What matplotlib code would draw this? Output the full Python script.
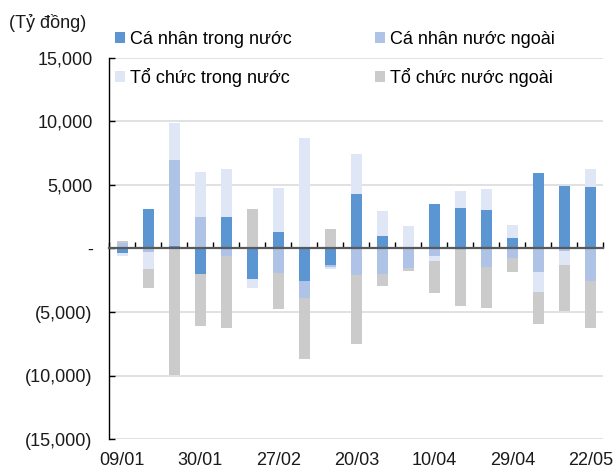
import matplotlib
matplotlib.use("Agg")
import matplotlib.pyplot as plt
import numpy as np
from matplotlib.ticker import FuncFormatter, FixedLocator, MultipleLocator

FS = 13
plt.rcParams["font.family"] = ["Liberation Sans", "DejaVu Sans"]
plt.rcParams["font.size"] = FS

# net buying/selling by investor group, weekly (ty dong)
ca_nhan_trong_nuoc = [-350, 3090, 210, -1990, 2510, -2380, 1260, -2540, -1280, 4290,
                      940, 0, 3500, 3170, 3040, 840, 5940, 4870, 4810]
ca_nhan_nuoc_ngoai = [420, -310, 6750, 2460, -580, 0, -1910, -1330, -210, -2070,
                      -1990, -1520, -630, -150, -1470, -730, -1830, -200, -2590]
to_chuc_trong_nuoc = [-260, -1280, 2930, 3580, 3720, -760, 3480, 8660, -100, 3140,
                      2010, 1750, -390, 1310, 1650, 1020, -1620, -1080, 1440]
to_chuc_nuoc_ngoai = [160, -1520, -9920, -4080, -5680, 3110, -2850, -4810, 1520, -5420,
                      -990, -290, -2490, -4350, -3240, -1150, -2510, -3610, -3690]

date_labels = ["09/01", "30/01", "27/02", "20/03", "10/04", "29/04", "22/05"]

series = [
    ("Cá nhân trong nước", ca_nhan_trong_nuoc, "#5B96D2"),
    ("Cá nhân nước ngoài", ca_nhan_nuoc_ngoai, "#AEC3E6"),
    ("Tổ chức trong nước", to_chuc_trong_nuoc, "#DFE7F6"),
    ("Tổ chức nước ngoài", to_chuc_nuoc_ngoai, "#CBCBCB"),
]

n = len(ca_nhan_trong_nuoc)
x = np.arange(n)

fig = plt.figure(figsize=(6.15, 4.70), dpi=100)
ax = fig.add_axes([109.3 / 615, 1 - 439.3 / 470, (603.3 - 109.3) / 615, (439.3 - 57.6) / 470])

pos_bottom = np.zeros(n)
neg_bottom = np.zeros(n)
handles = {}
for label, vals, color in series:
    vals = np.array(vals, dtype=float)
    pos = np.where(vals > 0, vals, 0)
    neg = np.where(vals < 0, vals, 0)
    b = ax.bar(x, pos, 0.41, bottom=pos_bottom, color=color, linewidth=0, zorder=3)
    ax.bar(x, neg, 0.41, bottom=neg_bottom, color=color, linewidth=0, zorder=3)
    pos_bottom += pos
    neg_bottom += neg
    handles[label] = b

ax.set_xlim(-0.5, n - 0.5)
ax.set_ylim(-15000, 15000)
ax.yaxis.set_major_locator(MultipleLocator(5000))


def fmt(v, _pos):
    if abs(v) < 1e-6:
        return "-"
    if v < 0:
        return f"({abs(v):,.0f})"
    return f"{v:,.0f}"


ax.yaxis.set_major_formatter(FuncFormatter(fmt))
ax.grid(axis="y", color="#D9D9D9", linewidth=1.1, zorder=0)
ax.tick_params(axis="y", direction="in", length=4, width=1, color="black", pad=12,
               labelsize=FS, labelcolor="#1a1a1a")

for side in ("top", "right"):
    ax.spines[side].set_visible(False)
ax.spines["left"].set_color("black")
ax.spines["left"].set_linewidth(1.0)
ax.spines["bottom"].set_position(("data", 0))
ax.spines["bottom"].set_color("#595959")
ax.spines["bottom"].set_linewidth(1.6)
ax.spines["bottom"].set_zorder(4)

# category boundary marks on the zero line
ax.xaxis.set_major_locator(FixedLocator(np.arange(-0.5, n, 1.0)))
ax.tick_params(axis="x", direction="in", length=4, width=1, color="black",
               labelbottom=False)

# date labels at the bottom of the plot
sec = ax.secondary_xaxis(0)
sec.set_xticks(np.arange(0, n, 3))
sec.set_xticklabels(date_labels)
sec.tick_params(length=0, pad=9, labelsize=FS, labelcolor="#1a1a1a")
sec.spines["bottom"].set_visible(False)

order = ["Cá nhân trong nước", "Tổ chức trong nước", "Cá nhân nước ngoài", "Tổ chức nước ngoài"]
fig.legend(
    [handles[k] for k in order],
    order,
    ncol=2,
    loc="upper left",
    bbox_to_anchor=(115 / 615, 1 - 31 / 470),
    frameon=False,
    handlelength=0.55,
    handleheight=0.55,
    handletextpad=0.3,
    columnspacing=4.6,
    labelspacing=1.12,
    borderpad=0,
    borderaxespad=0,
    fontsize=FS,
)

fig.text(9 / 615, 1 - 23 / 470, "(Tỷ đồng)", ha="left", va="center", fontsize=FS,
         color="#1a1a1a")

fig.savefig("out.png", dpi=100)
